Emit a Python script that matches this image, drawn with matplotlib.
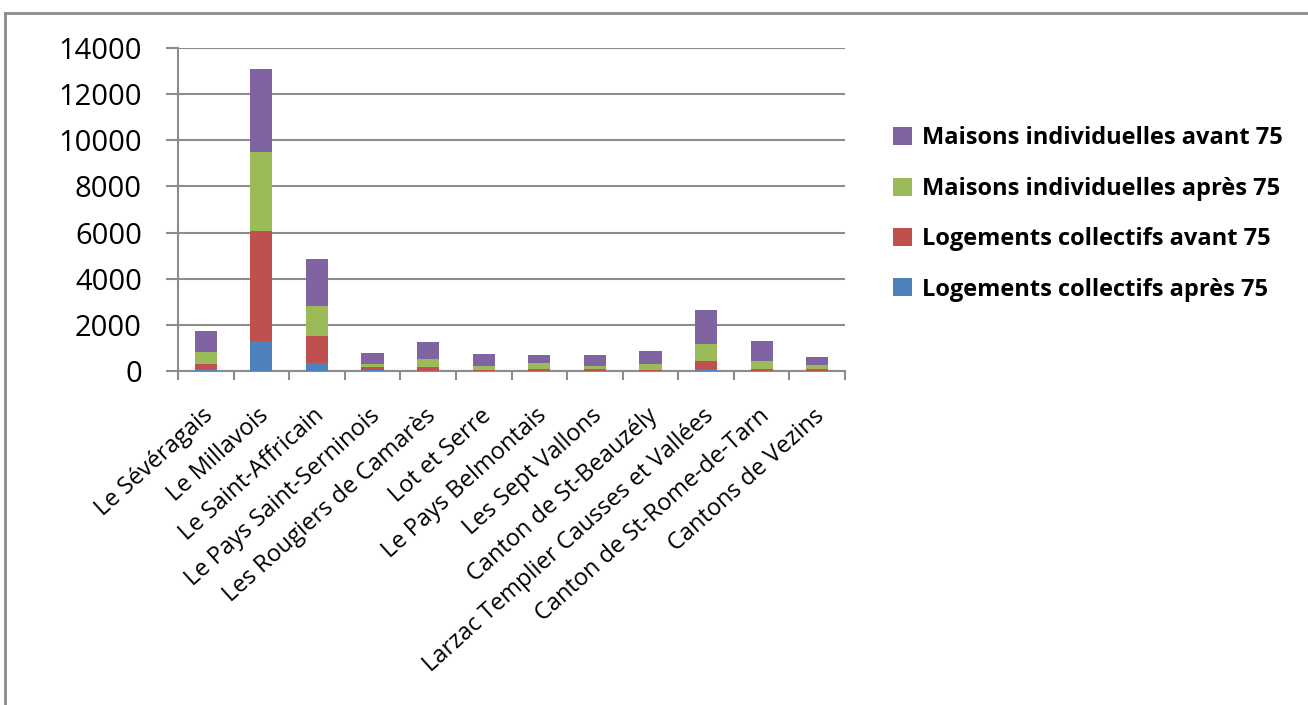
import matplotlib
matplotlib.use("Agg")
import matplotlib.pyplot as plt
from matplotlib.lines import Line2D
from matplotlib.patches import Patch
import numpy as np

plt.rcParams['font.family'] = ['Open Sans', 'DejaVu Sans']

categories = [
    "Le Sévéragais", "Le Millavois", "Le Saint-Affricain",
    "Le Pays Saint-Serninois", "Les Rougiers de Camarès", "Lot et Serre",
    "Le Pays Belmontais", "Les Sept Vallons", "Canton de St-Beauzély",
    "Larzac Templier Causses et Vallées", "Canton de St-Rome-de-Tarn",
    "Cantons de Vezins",
]
coll_apres = [90, 1310, 350, 30, 20, 10, 20, 20, 10, 80, 20, 20]
coll_avant = [200, 4770, 1180, 130, 140, 30, 70, 70, 20, 350, 70, 70]
maisons_apres = [525, 3400, 1270, 130, 340, 190, 260, 130, 260, 740, 340, 190]
maisons_avant = [900, 3620, 2060, 480, 760, 500, 340, 470, 560, 1470, 880, 340]

series_names = [
    "Logements collectifs après 75",
    "Logements collectifs avant 75",
    "Maisons individuelles après 75",
    "Maisons individuelles avant 75",
]
series_values = [coll_apres, coll_avant, maisons_apres, maisons_avant]
colors = ["#4F81BD", "#C0504D", "#9BBB59", "#8064A2"]
yticks = [0, 2000, 4000, 6000, 8000, 10000, 12000, 14000]

grey = "#8C8C8C"

fig = plt.figure(figsize=(13.08, 7.05), dpi=100)
ax = fig.add_axes([178 / 1308, 1 - 371 / 705, 667 / 1308, (371 - 48) / 705])

x = np.arange(len(categories))
bottom = np.zeros(len(categories))
for name, vals, c in zip(series_names, series_values, colors):
    ax.bar(x, vals, width=0.4, bottom=bottom, color=c, label=name, zorder=3)
    bottom += np.array(vals)

ax.set_xlim(-0.5, len(categories) - 0.5)
ax.set_ylim(0, 14000)
ax.set_yticks(yticks)
ax.set_yticklabels([str(v) for v in yticks], fontsize=21)
ax.yaxis.grid(True, color=grey, linewidth=1.5, zorder=0)
ax.tick_params(axis='y', length=9, width=1.5, color=grey, pad=17)

ax.set_xticks(x)
ax.set_xticklabels([])
ax.set_xticks(np.arange(-0.5, len(categories), 1.0), minor=True)
ax.tick_params(axis='x', which='major', length=0)
ax.tick_params(axis='x', which='minor', length=6.5, width=1.5, color=grey)

for xi, lab in zip(x, categories):
    ax.annotate(lab, xy=(xi, 0), xycoords=('data', 'axes fraction'),
                xytext=(3, -30), textcoords='offset points',
                rotation=42, rotation_mode='anchor', ha='right', va='center',
                fontsize=17)

for side in ['top', 'right']:
    ax.spines[side].set_visible(False)
for side in ['left', 'bottom']:
    ax.spines[side].set_color(grey)
    ax.spines[side].set_linewidth(1.5)

handles = [Patch(facecolor=c) for c in colors][::-1]
labels = series_names[::-1]
fig.legend(handles, labels, loc='center left',
           bbox_to_anchor=(872 / 1308, 1 - 214 / 705),
           frameon=False, prop={'size': 17, 'weight': 'bold'},
           handlelength=0.8, handleheight=0.8, handletextpad=0.4,
           labelspacing=1.12)

# outer chart frame
fig.add_artist(Line2D([5 / 1308, 1], [1 - 12.5 / 705, 1 - 12.5 / 705],
                      transform=fig.transFigure, color=grey, linewidth=2))
fig.add_artist(Line2D([5 / 1308, 5 / 1308], [0, 1 - 12.5 / 705],
                      transform=fig.transFigure, color=grey, linewidth=2))

fig.savefig("out.png", dpi=100)
